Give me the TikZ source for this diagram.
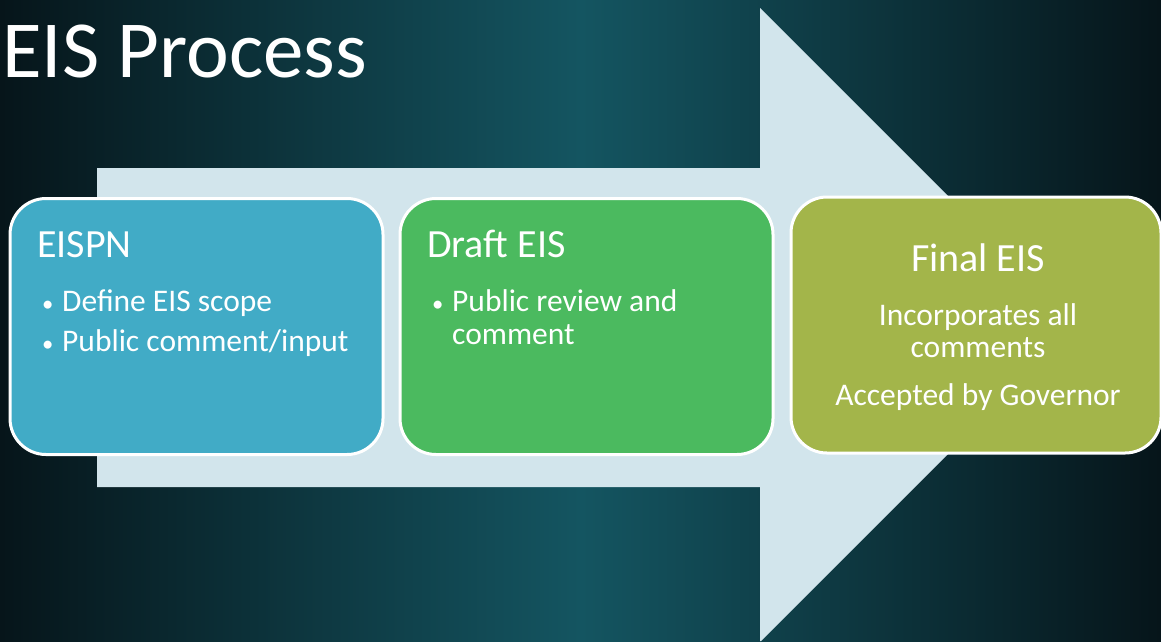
\documentclass[tikz,border=0pt]{standalone}
\usepackage{fontspec}
\setmainfont{Carlito}
\usepackage{xcolor}
\usetikzlibrary{positioning}

\definecolor{bgdark}{HTML}{06151A}
\definecolor{bgteal}{HTML}{145561}
\definecolor{arrowfill}{HTML}{D2E5EC}
\definecolor{eispnblue}{HTML}{41ABC6}
\definecolor{draftgreen}{HTML}{4BBA5F}
\definecolor{finalolive}{HTML}{A3B54A}

\newcommand{\bul}{\makebox[21pt][l]{\hspace{1pt}\scalebox{0.72}{\textbullet}}}

\begin{document}
\begin{tikzpicture}[
  x=1pt, y=-1pt,
  stage/.style={
    rectangle,
    rounded corners=36pt,
    draw=white,
    line width=3pt,
    fill=#1,
    minimum width=373pt,
    minimum height=256pt,
    inner sep=0pt
  },
  heading/.style={text=white, inner sep=0pt, font=\fontsize{40}{48}\selectfont},
  body/.style={text=white, inner sep=0pt, font=\fontsize{31.5}{38}\selectfont}
]

% ===================== Background =====================
\fill[left color=bgdark, right color=bgdark, middle color=bgteal]
  (0,0) rectangle (1161,641);
\useasboundingbox (0,0) rectangle (1161,641);

\node[anchor=base west, inner sep=0pt, text=white,
  font=\fontsize{81}{97}\selectfont] (title) at (2,77) {EIS Process};

% ===================== Arrow =====================
\fill[arrowfill] (97,168) -- (760,168) -- (760,8) -- (1077,325)
  -- (761,641) -- (760,641) -- (760,487) -- (97,487) -- cycle;

% ===================== Stages =====================
\node[stage=eispnblue]  (eispn) at (196.5,326.5) {};
\node[stage=draftgreen] (draft) at (586.5,326.5) {};
\node[stage=finalolive, minimum width=370pt] (final) at (976,325) {};

% EISPN
\node[heading, anchor=base west] (eispnhead) at (37,257) {EISPN};
\node[body, anchor=base west] (eispnone) at (41,311) {\bul Define EIS scope};
\node[body, anchor=base west] (eispntwo) at (41,351) {\bul Public comment/input};

% Draft EIS
\node[heading, anchor=base west] (drafthead) at (427,257) {Draft EIS};
\node[body, anchor=base west] (draftone) at (431,311) {\bul Public review and};
\node[body, anchor=base west] (drafttwo) at (452,344) {comment};

% Final EIS
\node[heading, anchor=base] (finalhead) at (978,271) {Final EIS};
\node[body, anchor=base] (finalone)   at (978,325) {Incorporates all};
\node[body, anchor=base] (finaltwo)   at (978,357) {comments};
\node[body, anchor=base] (finalthree) at (978,405) {Accepted by Governor};

\end{tikzpicture}
\end{document}
